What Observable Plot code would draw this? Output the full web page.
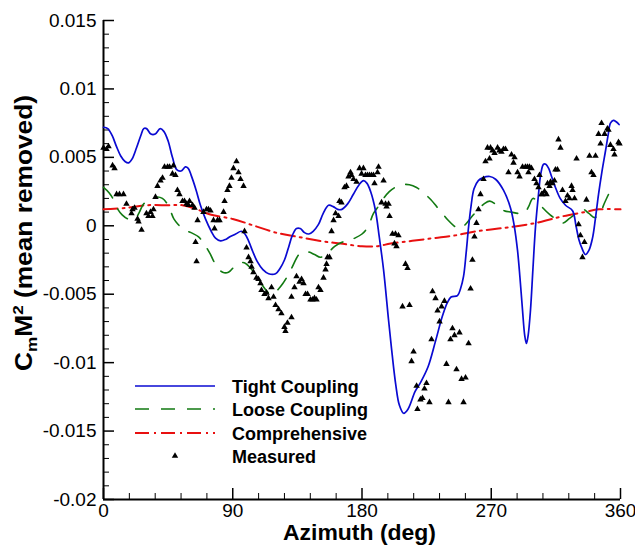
<!DOCTYPE html>
<html>
<head>
<meta charset="utf-8">
<script src="https://cdn.jsdelivr.net/npm/d3@7"></script>
<script src="https://cdn.jsdelivr.net/npm/@observablehq/plot@0.6"></script>
<style>
  html, body { margin: 0; padding: 0; background: #fff; }
  #chart { width: 635px; height: 548px; }
</style>
</head>
<body>
<div id="chart"></div>
<script>
// ---------- data ----------
const tightAz = [0,3,6,9,12,15,17.5,20,23,26,28,30,33,36,39.5,42,45,48,51,54,57,59,61,64.5,67.5,71,75,78,81.5,85,88,92,96,98.5,101,104,107,111,115,119.8,123,126,128.8,131.5,134.4,137,140,143,146,149.7,153,156.7,160,163,166,170,174,178,181,183.5,186,189.4,192,195,198.5,201,203.5,206,209,212,217,221,226,231,236,239.5,242,246.5,248.6,250.7,252.5,254.2,256,258,261,264,269,273,278.5,283.4,286,288.3,290,291.8,293.3,294.5,295.7,297.3,299,300.8,302.9,304.5,306.4,308,310,312,314.7,318,321.7,326.6,329,331,333,335.6,338,340.5,342.5,344.7,347,349.6,351.5,353,355,357,359];
const tightCm = [0.0072,0.0071,0.0066,0.0058,0.0051,0.0047,0.0046,0.0049,0.0057,0.0066,0.0071,0.0071,0.0067,0.0067,0.0071,0.0069,0.0062,0.0050,0.0041,0.0040,0.0043,0.0042,0.0037,0.0026,0.0015,0.0005,-0.0004,-0.0009,-0.0011,-0.0010,-0.0008,-0.0006,-0.0004,-0.0006,-0.0011,-0.0019,-0.0026,-0.0032,-0.0035,-0.0035,-0.0031,-0.0025,-0.0016,-0.0007,-0.0002,-0.0002,-0.0005,-0.0006,-0.0004,0.0001,0.0009,0.0015,0.0014,0.0012,0.0012,0.0016,0.0023,0.0030,0.0033,0.0031,0.0025,0.0011,-0.0008,-0.0032,-0.0069,-0.0094,-0.0116,-0.0131,-0.0137,-0.0134,-0.0121,-0.0114,-0.0103,-0.0085,-0.0066,-0.0056,-0.0052,-0.0051,-0.0046,-0.0037,-0.0020,-0.0001,0.0015,0.0027,0.0033,0.0035,0.0036,0.0034,0.0026,0.0013,0.0000,-0.0018,-0.0038,-0.0062,-0.0080,-0.0086,-0.0080,-0.0062,-0.0032,-0.0001,0.0023,0.0038,0.0045,0.0045,0.0042,0.0036,0.0028,0.0020,0.0015,0.0011,0.0000,-0.0010,-0.0016,-0.0021,-0.0018,-0.0009,0.0005,0.0023,0.0039,0.0055,0.0067,0.0075,0.0077,0.0076,0.0074];

const looseAz = [0,4,7,10,13,17,22,25,28,33,37,41,45,49,52,56,61,66,70,74,79,83,87,93,98,104,108,111,115,118,122,125,128,131,137,142,147,151,156,161,166,170,175,180,184,188,192,195,199,203,208,213,218,223,228,232,236,240,244,247,251,256,260,265,269,274,279,284,289,293,296,299,303,306,311,315,320,324,329,334,338,342,346,349,353];
const looseCm = [0.0028,0.0024,0.0019,0.0012,0.0008,0.0005,0.0005,0.0010,0.0016,0.0019,0.0021,0.0020,0.0015,0.0005,0.0001,-0.0003,-0.0005,-0.0008,-0.0013,-0.0020,-0.0030,-0.0034,-0.0034,-0.0028,-0.0027,-0.0033,-0.0039,-0.0044,-0.0049,-0.0050,-0.0046,-0.0042,-0.0037,-0.0031,-0.0020,-0.0019,-0.0021,-0.0023,-0.0020,-0.0015,-0.0012,-0.0011,-0.0009,-0.0006,-0.0001,0.0009,0.0015,0.0020,0.0025,0.0028,0.0030,0.0030,0.0028,0.0024,0.0019,0.0014,0.0009,0.0004,0.0000,-0.0002,0.0000,0.0006,0.0011,0.0016,0.0018,0.0015,0.0011,0.0010,0.0009,0.0009,0.0014,0.0020,0.0017,0.0013,0.0008,0.0005,0.0002,0.0005,0.0009,0.0012,0.0009,0.0006,0.0010,0.0017,0.0026];

const compAz = [0,15,30,45,55,65,75,90,105,120,135,150,165,180,190,200,215,230,245,260,275,290,305,320,335,345,360];
const compCm = [0.0012,0.0013,0.0015,0.0015,0.0015,0.0012,0.0008,0.0005,0.0000,-0.0005,-0.0008,-0.0011,-0.0013,-0.0015,-0.0015,-0.0013,-0.0011,-0.0009,-0.0007,-0.0004,-0.0002,0.0000,0.0003,0.0007,0.0010,0.0012,0.0012];

const measAz = [0,2.1,3.5,6.3,7.7,9.1,11.1,13.9,16,19.5,20.2,21.6,23.7,24.4,26.5,29.9,31.3,32.7,34.1,34.8,36.2,37.6,39.7,41.1,42.5,44.6,46,48,48.7,50.1,51.5,52.9,55,56.4,57.8,59.2,59.9,62,63.4,64.1,64.8,65.5,69.6,71.7,73.1,74.5,76.6,77.3,79.4,80.8,83.6,84.3,86.3,87.7,89.1,90.5,92.6,94,95.4,97.5,98.2,99.6,101,102.4,103.1,104.4,106.5,107.9,109.3,110,112.1,113.5,114.9,117,118.4,119.8,121.9,123.9,126,126.7,128.1,130.9,130.9,133,134.4,136.5,137.9,139.3,140.7,142.1,144.1,145.5,146.9,148.3,149.7,151.1,153.2,154.6,155.3,156,157.4,158.8,160.2,161.6,163.7,164.3,165.7,167.8,169.2,170.6,172,172.7,174.1,176.2,178.3,179.7,181,182.4,183.8,185.2,186.6,188,188.7,190.8,191.5,195,193.6,196.4,198.5,197.1,199.2,201.2,203.3,205.4,202.6,204,210.3,211.7,208.2,213.1,215.9,214.5,218,224.9,223.5,222.1,220.7,227,218.6,229.1,231.2,232.6,234,235.4,237.4,228.4,238.8,240.2,241.6,243,244.4,247.9,245.8,249.3,252.1,250.7,254.2,255.6,256.9,258.3,259.7,261.1,262.5,264.6,266,268.8,267.4,269.5,270.9,272.3,274.4,275.7,277.1,278.5,279.9,282,284.1,286.2,285.5,288.3,289.7,291.8,293.8,295.2,296.6,298,295.9,300.1,301.5,302.9,303.6,305.7,307.1,308.5,305,309.2,311.3,310.6,312.6,314,314.7,316.1,316.8,318.2,319.6,321.7,323.1,325.9,326.6,328,324.5,329.4,330.8,332.1,334.9,333.5,336.3,338.4,342.6,339.8,341.2,344.7,346.8,348.9,350.9,351.6,346.1,353,355.1,355.8,358.6,359.3];
const measCm = [0.0057,0.0056,0.0058,0.0044,0.0042,0.0023,0.0023,0.0023,0.0016,0.0009,0.0012,0.0013,0.0005,0.0003,-0.0003,0.0009,0.0007,0.0010,0.0007,0.0012,0.0021,0.0029,0.0033,0.0035,0.0043,0.0043,0.0043,0.0038,0.0044,0.0037,0.0026,0.0023,0.0018,0.0018,0.0016,0.0015,0.0018,0.0015,0.0013,-0.0012,-0.0026,0.0004,0.0010,0.0012,0.0012,0.0011,0.0004,-0.0002,0.0004,0.0004,0.0010,0.0018,0.0026,0.0029,0.0035,0.0042,0.0047,0.0039,0.0034,0.0029,-0.0004,-0.0016,-0.0023,-0.0026,-0.0030,-0.0034,-0.0038,-0.0039,-0.0042,-0.0047,-0.0050,-0.0049,-0.0053,-0.0045,-0.0052,-0.0058,-0.0061,-0.0064,-0.0074,-0.0077,-0.0071,-0.0067,-0.0052,-0.0045,-0.0037,-0.0041,-0.0039,-0.0042,-0.0050,-0.0050,-0.0054,-0.0054,-0.0053,-0.0054,-0.0045,-0.0047,-0.0038,-0.0032,-0.0028,-0.0023,-0.0023,-0.0004,0.0004,0.0009,0.0007,0.0018,0.0017,0.0028,0.0029,0.0036,0.0039,0.0037,0.0034,0.0032,0.0042,0.0038,0.0042,0.0037,0.0037,0.0037,0.0037,0.0037,0.0031,0.0039,0.0043,0.0033,0.0017,0.0016,0.0016,0.0014,0.0007,-0.0006,-0.0006,-0.0007,-0.0013,-0.0015,-0.0028,-0.0031,-0.0059,-0.0058,-0.0092,-0.0099,-0.0117,-0.0115,-0.0119,-0.0126,-0.0127,-0.0129,-0.0134,-0.0048,-0.0053,-0.0062,-0.0070,-0.0059,-0.0055,-0.0083,-0.0101,-0.0129,-0.0083,-0.0075,-0.0080,-0.0078,-0.0105,-0.0112,-0.0111,-0.0129,-0.0086,-0.0046,-0.0025,-0.0008,0.0002,0.0012,0.0023,0.0034,0.0047,0.0049,0.0057,0.0057,0.0055,0.0053,0.0057,0.0055,0.0054,0.0056,0.0056,0.0039,0.0052,0.0050,0.0046,0.0039,0.0036,0.0043,0.0043,0.0043,0.0043,0.0042,0.0039,0.0034,0.0031,0.0028,0.0037,0.0023,0.0025,0.0023,0.0023,0.0031,0.0032,0.0029,0.0031,0.0033,0.0041,0.0041,0.0063,0.0057,0.0026,0.0018,0.0022,0.0029,0.0026,0.0020,0.0020,0.0049,0.0001,-0.0007,-0.0012,-0.0023,0.0019,0.0051,0.0051,0.0039,0.0037,0.0067,0.0075,0.0067,0.0071,0.0070,0.0060,0.0059,0.0056,0.0052,0.0061,0.0060];

const xTicks = [0, 90, 180, 270, 360];
const xTickLabels = ["0", "90", "180", "270", "360"];
const xMinorTicks = [18,36,54,72,108,126,144,162,198,216,234,252,288,306,324,342];
const yTicks = [-0.02, -0.015, -0.01, -0.005, 0, 0.005, 0.01, 0.015];
const yTickLabels = ["-0.02", "-0.015", "-0.01", "-0.005", "0", "0.005", "0.01", "0.015"];
const yMinorTicks = [-0.019,-0.018,-0.017,-0.016,-0.014,-0.013,-0.012,-0.011,-0.009,-0.008,-0.007,-0.006,-0.004,-0.003,-0.002,-0.001,0.001,0.002,0.003,0.004,0.006,0.007,0.008,0.009,0.011,0.012,0.013,0.014];

const seriesNames = ["Tight Coupling", "Loose Coupling", "Comprehensive", "Measured"];
const xLabel = "Azimuth (deg)";

// ---------- build tables ----------
const tight = tightAz.map((a, i) => ({az: a, cm: tightCm[i]}));
const loose = looseAz.map((a, i) => ({az: a, cm: looseCm[i]}));
const comp = compAz.map((a, i) => ({az: a, cm: compCm[i]}));
const meas = measAz.map((a, i) => ({az: a, cm: measCm[i]}));

// ---------- layout & style ----------
const W = 635, H = 548;
const mL = 103, mR = 15, mT = 20, mB = 49;
const plotW = W - mL - mR, plotH = H - mT - mB;
const FONT = "'Liberation Sans', Arial, Helvetica, sans-serif";
const BLUE = "#0a0ad2", GREEN = "#127a12", RED = "#e81010";
const GREEN_DASH = "14,12", RED_DASH = "14,5,2,5";
const MAJOR = 11, MINOR = 6;

const plot = Plot.plot({
  width: W, height: H,
  marginLeft: mL, marginRight: mR, marginTop: mT, marginBottom: mB,
  style: {fontFamily: FONT, fontSize: "19px", background: "#fff", color: "#000", overflow: "visible"},
  x: {domain: [0, 360]},
  y: {domain: [-0.02, 0.015]},
  marks: [
    Plot.tickX(xMinorTicks, {insetTop: plotH - MINOR, stroke: "#000", strokeWidth: 1}),
    Plot.tickX(xTicks, {insetTop: plotH - MAJOR, stroke: "#000", strokeWidth: 1.5}),
    Plot.tickY(yMinorTicks, {insetRight: plotW - MINOR, stroke: "#000", strokeWidth: 1}),
    Plot.tickY(yTicks, {insetRight: plotW - MAJOR, stroke: "#000", strokeWidth: 1.5}),
    Plot.ruleX([0], {stroke: "#000", strokeWidth: 2}),
    Plot.ruleY([-0.02], {stroke: "#000", strokeWidth: 2}),
    Plot.axisX(xTicks, {tickSize: 0, tickPadding: 4, label: null,
      tickFormat: d => xTickLabels[xTicks.indexOf(d)]}),
    Plot.axisY(yTicks, {tickSize: 0, tickPadding: 7, label: null,
      tickFormat: d => yTickLabels[yTicks.indexOf(d)]}),
    Plot.line(comp, {x: "az", y: "cm", stroke: RED, strokeWidth: 2, strokeDasharray: RED_DASH, curve: "catmull-rom"}),
    Plot.line(loose, {x: "az", y: "cm", stroke: GREEN, strokeWidth: 1.6, strokeDasharray: GREEN_DASH, curve: "catmull-rom"}),
    Plot.line(tight, {x: "az", y: "cm", stroke: BLUE, strokeWidth: 1.7, curve: "catmull-rom"}),
    Plot.dot(meas, {x: "az", y: "cm", symbol: "triangle", r: 2.4, fill: "#000", stroke: "none"})
  ]
});

document.getElementById("chart").appendChild(plot);

// ---------- axis titles & legend (real text) ----------
const svg = d3.select(plot);

svg.append("text")
  .attr("x", mL + plotW / 2 - 2).attr("y", 540)
  .attr("text-anchor", "middle")
  .attr("font-family", FONT).attr("font-weight", "bold").attr("font-size", 22)
  .attr("textLength", 153).attr("lengthAdjust", "spacingAndGlyphs")
  .attr("fill", "#000")
  .text(xLabel);

const yl = svg.append("text")
  .attr("transform", `translate(32,${233}) rotate(-90)`)
  .attr("text-anchor", "middle")
  .attr("font-family", FONT).attr("font-weight", "bold").attr("font-size", 23)
  .attr("textLength", 276).attr("lengthAdjust", "spacingAndGlyphs")
  .attr("fill", "#000");
yl.append("tspan").text("C");
yl.append("tspan").attr("font-size", 15).attr("dy", 5).text("m");
yl.append("tspan").attr("dy", -5).text("M");
yl.append("tspan").attr("font-size", 15).attr("dy", -9).text("2");
yl.append("tspan").attr("dy", 9).text(" (mean removed)");

const legX1 = 135, legX2 = 215, legTextX = 232;
const legY = [386, 409, 433, 456];
const legStyles = [
  {stroke: BLUE, dash: null, width: 1.7},
  {stroke: GREEN, dash: GREEN_DASH, width: 1.6},
  {stroke: RED, dash: RED_DASH, width: 2}
];
const leg = svg.append("g");
legStyles.forEach((s, i) => {
  leg.append("line")
    .attr("x1", legX1).attr("x2", legX2).attr("y1", legY[i]).attr("y2", legY[i])
    .attr("stroke", s.stroke).attr("stroke-width", s.width)
    .attr("stroke-dasharray", s.dash);
});
leg.append("path")
  .attr("d", d3.symbol(d3.symbolTriangle, Math.PI * 2.4 * 2.4)())
  .attr("transform", `translate(${(legX1 + legX2) / 2},${legY[3]})`)
  .attr("fill", "#000");
seriesNames.forEach((name, i) => {
  leg.append("text")
    .attr("x", legTextX).attr("y", legY[i] + 6.5)
    .attr("text-anchor", "start")
    .attr("font-family", FONT).attr("font-weight", "bold").attr("font-size", 18)
    .attr("fill", "#000")
    .text(name);
});
</script>
</body>
</html>
